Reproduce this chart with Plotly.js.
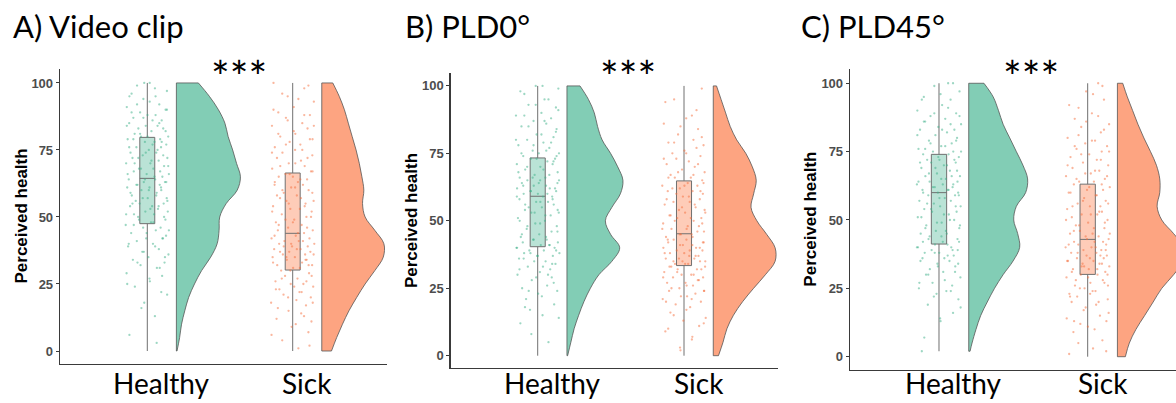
<!DOCTYPE html>
<html><head><meta charset="utf-8">
<script src="https://cdn.plot.ly/plotly-3.0.1.min.js"></script>
<style>html,body{margin:0;padding:0;background:#fff}#chart{width:1176px;height:403px}</style>
</head><body><div id="chart"></div>
<script>
// ---------------- data ----------------
const PANEL_TITLES = ['A) Video clip', 'B) PLD0°', 'C) PLD45°'];
const CATEGORIES = ['Healthy', 'Sick'];
const SIGNIFICANCE = ['***', '***', '***'];
const Y_TITLE = 'Perceived health';
const Y_TICKS = [0, 25, 50, 75, 100];

// half-violin density levels (perceived health) and relative widths
const LEVELS = [0,5,10,15,20,25,30,35,40,45,50,55,60,65,70,75,80,85,90,95,100];
const LEVELS_C_HEALTHY = [2,5,10,15,20,25,30,35,40,45,50,55,60,65,70,75,80,85,90,95,100];
const DENS_A_HEALTHY = [0.01,0.05,0.08,0.13,0.19,0.28,0.39,0.53,0.63,0.66,0.67,0.77,0.94,0.99,0.93,0.87,0.80,0.75,0.65,0.51,0.34];
const DENS_A_SICK    = [0.15,0.23,0.32,0.42,0.54,0.67,0.82,0.95,0.96,0.82,0.67,0.63,0.65,0.62,0.58,0.53,0.47,0.41,0.35,0.27,0.17];
const DENS_B_HEALTHY = [0.01,0.06,0.11,0.18,0.26,0.36,0.49,0.69,0.81,0.67,0.59,0.69,0.82,0.86,0.78,0.67,0.54,0.47,0.42,0.33,0.20];
const DENS_B_SICK    = [0.08,0.15,0.21,0.31,0.45,0.62,0.80,0.95,0.95,0.82,0.67,0.58,0.62,0.66,0.60,0.50,0.36,0.26,0.19,0.12,0.05];
const DENS_C_HEALTHY = [0.02,0.05,0.11,0.18,0.28,0.39,0.52,0.67,0.77,0.74,0.68,0.72,0.86,0.89,0.82,0.72,0.62,0.52,0.45,0.37,0.23];
const DENS_C_SICK    = [0.12,0.18,0.28,0.41,0.54,0.67,0.85,0.99,1.00,0.85,0.67,0.60,0.64,0.64,0.59,0.50,0.40,0.31,0.23,0.15,0.08];

// box statistics, order: A-Healthy, A-Sick, B-Healthy, B-Sick, C-Healthy, C-Sick
const BOX_LOW    = [0, 0, 0, 0, 2, 0];
const BOX_Q1     = [47.5, 30.2, 40.4, 33.4, 41.2, 30.1];
const BOX_MEDIAN = [64.4, 43.9, 59.1, 45.2, 60.0, 42.9];
const BOX_Q3     = [79.7, 66.4, 73.3, 64.8, 74.0, 63.1];
const BOX_HIGH   = [100, 100, 100, 100, 100, 100];

const PTS_A_HEALTHY = [6,13,18,21,24,26,28,29,31,32,33,34,35,36,37,38,39,40,41,42,42,43,44,45,46,46,47,48,49,
  50,51,51,52,52,53,54,54,55,55,56,57,57,58,59,60,60,61,61,62,62,63,63,64,64,65,66,66,67,68,68,69,
  70,70,71,72,72,73,74,74,75,76,76,77,78,78,79,79,80,80,81,82,83,83,84,84,85,86,86,87,88,89,90,91,92,94,95,96,97,99,100,
  3,16,22,25,27,31,33,35,37,39,40,42,44,45,47,48,49,50,51,53,54,55,56,57,58,59,60,61,62,63,64,65,66,67,68,69,
  70,71,72,73,74,75,76,77,78,79,80,81,82,84,85,87,88,89,90,92,93,95,98,100];
const PTS_A_SICK = [1,4,7,9,11,12,14,15,17,18,19,20,21,22,23,24,25,25,26,27,28,29,30,31,32,32,33,34,34,35,35,36,36,37,37,38,38,39,39,
  40,40,41,41,42,42,43,44,45,45,46,47,48,49,50,51,52,53,53,54,55,56,56,57,58,59,60,61,62,62,63,64,65,65,66,67,68,69,
  70,71,72,73,74,75,76,77,78,79,80,81,83,84,85,87,88,89,91,93,95,98,100,
  2,6,10,13,16,18,20,22,23,24,26,27,28,30,31,33,34,35,36,37,38,39,32,40,41,43,44,46,47,48,49,
  50,52,54,55,57,58,59,60,61,63,64,66,67,69,70,72,74,75,77,79,81,82,84,86,88,90,94,96,99];
const PTS_B_HEALTHY = [5,12,15,17,19,21,23,24,25,26,28,29,30,31,32,33,34,35,35,36,37,37,38,38,39,39,
  40,40,41,41,42,42,43,43,44,45,46,47,48,49,50,51,52,53,53,54,55,55,56,57,57,58,59,59,
  60,60,61,61,62,62,63,63,64,64,65,65,66,66,67,68,69,70,71,71,72,73,73,74,75,75,76,77,78,79,
  80,81,82,84,85,86,87,88,89,90,92,93,95,97,99,100,
  8,14,18,22,24,27,29,30,32,33,34,36,37,38,39,40,41,43,44,45,46,48,49,50,52,53,54,56,57,58,59,
  60,61,62,63,64,65,66,67,68,69,70,72,73,74,75,76,78,79,80,82,83,85,87,89,91,93,95,98,100];
const PTS_B_SICK = [2,6,9,11,13,14,16,18,19,20,21,22,23,24,24,25,26,27,27,28,29,29,
  30,30,31,32,32,33,33,34,34,35,35,36,36,37,37,38,38,39,39,40,40,41,41,42,42,43,43,44,45,45,46,47,47,48,49,
  50,51,51,52,53,53,54,55,56,57,57,58,59,60,61,61,62,63,63,64,65,66,66,67,68,69,
  70,71,72,73,74,75,76,78,79,80,82,84,86,88,91,95,99,
  3,7,10,12,15,17,20,21,22,24,25,26,28,29,30,31,32,33,34,35,36,37,38,39,35,40,41,42,43,44,45,46,47,48,49,
  50,51,52,54,55,56,58,59,60,61,62,63,64,66,67,68,71,73,75,77,79,81,85,89,94];
const PTS_C_HEALTHY = [2,13,16,19,21,23,24,25,26,27,29,30,31,32,33,34,35,35,36,37,38,38,39,39,
  40,40,41,41,42,42,43,44,45,45,46,47,48,49,50,51,52,53,53,54,55,55,56,57,57,58,59,59,
  60,60,61,61,62,62,63,63,64,64,65,66,66,67,68,69,70,71,71,72,72,73,74,74,75,75,76,77,78,79,
  80,81,82,83,83,84,85,86,87,88,89,90,92,94,95,97,99,100,
  7,14,18,22,24,27,28,30,31,33,34,36,37,38,39,40,42,43,44,46,47,48,49,50,51,52,54,55,56,58,59,
  60,61,62,63,64,65,66,67,68,69,70,71,72,73,75,76,77,78,79,81,83,85,86,88,89,91,94,96,100];
const PTS_C_SICK = [1,3,6,9,11,12,13,14,15,17,19,20,21,22,23,23,24,25,26,26,27,28,29,
  30,30,31,32,32,33,34,34,35,35,36,36,37,37,38,38,39,39,40,40,41,41,42,42,43,44,44,45,45,46,47,48,49,
  50,51,52,52,53,54,55,55,56,57,58,59,60,61,61,62,63,64,64,65,66,67,68,69,
  70,71,72,73,74,75,76,77,78,79,80,82,84,85,87,89,91,94,97,100,
  2,5,10,13,16,18,20,22,24,25,27,28,29,30,31,32,33,34,35,36,37,38,39,33,40,41,42,43,45,46,47,48,49,
  50,52,53,55,56,57,59,60,62,63,65,66,67,68,70,72,74,75,77,79,81,83,86,88,92,96,99];

// horizontal jitter offsets (fraction of the jitter half-width)
const JITTER = [-0.82,0.35,-0.14,0.91,-0.57,0.12,0.68,-0.95,0.44,-0.31,
  0.79,-0.66,0.05,0.97,-0.23,0.53,-0.88,0.26,-0.48,0.72,
  -0.05,0.86,-0.74,0.39,-0.19,0.61,-0.99,0.17,0.83,-0.42,
  0.31,-0.61,0.94,-0.09,0.49,-0.79,0.22,-0.35,0.75,-0.53,
  0.02,0.89,-0.71,0.43,-0.27,0.64,-0.92,0.10,0.57,-0.45,
  0.81,-0.16,0.36,-0.85,0.69,-0.03,0.99,-0.62,0.28,-0.38,
  0.77,-0.97,0.14,0.52,-0.68,0.92,-0.21,0.41,-0.77,0.07,
  0.63,-0.50,0.87,-0.11,0.33,-0.90,0.59,-0.29,0.96,-0.58,
  0.19,-0.41,0.73,-0.07,0.47,-0.83,0.24,0.66,-0.64,0.01,
  -0.33,0.84,-0.94,0.55,-0.18,0.38,-0.72,0.90,-0.47,0.11];

// ---------------- layout / style ----------------
const W = 1176, H = 403;
const CAT_POS = [1, 2];
const BOX_WIDTH = 0.103, JITTER_HALF = 0.15, VIOLIN_GAP = 0.2, VIOLIN_SCALE = 0.445, LABEL_SHIFT = 0.1;
const FILL = ['rgba(102,194,165,0.82)', 'rgba(252,141,98,0.80)'];
const BOXFILL = ['rgba(102,194,165,0.45)', 'rgba(252,141,98,0.45)'];
const PTCOL = ['rgba(60,175,135,0.5)', 'rgba(245,110,60,0.5)'];
// panel geometry in pixels
const AX_LEFT = [60, 450.7, 850], AX_RIGHT = [387, 778, 1176];
const AX_TOP = [69, 72.7, 69.3], AX_BOTTOM = [364, 368, 370];
const X_RANGES = [[0.3996, 2.6486], [0.4053, 2.6425], [0.4015, 2.594]];
const Y_RANGES = [[-4.85, 105.2], [-4.56, 104.9], [-4.86, 105.1]];
const TITLE_X = [11, 403, 799], TITLE_Y = 26;
const SIG_X = [238.5, 627.5, 1031], SIG_Y = 76.5;
const CATLABEL_Y = 382.5;

const levelsFor = [[LEVELS, LEVELS], [LEVELS, LEVELS], [LEVELS_C_HEALTHY, LEVELS]];
const densFor = [[DENS_A_HEALTHY, DENS_A_SICK], [DENS_B_HEALTHY, DENS_B_SICK], [DENS_C_HEALTHY, DENS_C_SICK]];
const ptsFor = [[PTS_A_HEALTHY, PTS_A_SICK], [PTS_B_HEALTHY, PTS_B_SICK], [PTS_C_HEALTHY, PTS_C_SICK]];

const traces = [];
const layout = {
  width: W, height: H, margin: {l: 0, r: 0, t: 0, b: 0},
  paper_bgcolor: '#fff', plot_bgcolor: 'rgba(0,0,0,0)', showlegend: false,
  annotations: []
};

for (let p = 0; p < 3; p++) {
  const s = p === 0 ? '' : String(p + 1);
  const xa = 'x' + s, ya = 'y' + s;
  for (let g = 0; g < 2; g++) {
    const idx = p * 2 + g;
    const pos = CAT_POS[g];
    const pts = ptsFor[p][g];
    const off = idx * 17;
    traces.push({
      type: 'scatter', mode: 'markers', xaxis: xa, yaxis: ya, hoverinfo: 'skip',
      x: pts.map((v, i) => pos + JITTER[(i + off + (i >= 100 ? 43 : 0)) % JITTER.length] * JITTER_HALF),
      y: pts,
      marker: {size: 2.3, color: PTCOL[g], line: {width: 0}}
    });
    traces.push({
      type: 'box', xaxis: xa, yaxis: ya, x: [pos],
      q1: [BOX_Q1[idx]], median: [BOX_MEDIAN[idx]], q3: [BOX_Q3[idx]],
      lowerfence: [BOX_LOW[idx]], upperfence: [BOX_HIGH[idx]],
      width: BOX_WIDTH, whiskerwidth: 0, boxpoints: false,
      fillcolor: BOXFILL[g], line: {color: '#707070', width: 1}, hoverinfo: 'skip'
    });
    const lev = levelsFor[p][g], dens = densFor[p][g];
    const base = pos + VIOLIN_GAP;
    const n = lev.length;
    traces.push({
      type: 'scatter', mode: 'lines', xaxis: xa, yaxis: ya, hoverinfo: 'skip',
      x: [base + dens[0] * VIOLIN_SCALE, base, base, base + dens[n - 1] * VIOLIN_SCALE],
      y: [lev[0], lev[0], lev[n - 1], lev[n - 1]],
      line: {color: '#555', width: 0.8}
    });
    traces.push({
      type: 'scatter', mode: 'lines', xaxis: xa, yaxis: ya, hoverinfo: 'skip',
      x: dens.map(d => base + d * VIOLIN_SCALE), y: lev,
      line: {color: '#555', width: 0.8, shape: 'spline', smoothing: 1},
      fill: 'tonextx', fillcolor: FILL[g]
    });
    layout.annotations.push({
      xref: xa, yref: 'paper', x: pos + LABEL_SHIFT, y: 1 - CATLABEL_Y / H,
      xanchor: 'center', yanchor: 'middle', showarrow: false,
      text: CATEGORIES[g], font: {family: 'Lato', size: 28, color: '#000'}
    });
  }
  layout['xaxis' + s] = {
    domain: [AX_LEFT[p] / W, AX_RIGHT[p] / W], anchor: ya, range: X_RANGES[p],
    showline: true, linecolor: '#3a3a3a', linewidth: 1.3, showgrid: false, zeroline: false,
    showticklabels: false, ticks: '', fixedrange: true
  };
  layout['yaxis' + s] = {
    domain: [1 - AX_BOTTOM[p] / H, 1 - AX_TOP[p] / H], anchor: xa, range: Y_RANGES[p],
    showline: true, linecolor: '#3a3a3a', linewidth: 1.3, showgrid: false, zeroline: false,
    tickvals: Y_TICKS, ticktext: Y_TICKS.map(String), ticks: 'outside', ticklen: 3, tickcolor: '#3a3a3a',
    tickfont: {family: 'Liberation Sans, Arial, sans-serif', size: 13, color: '#4d4d4d', weight: 'bold'},
    fixedrange: true
  };
  layout.annotations.push({
    xref: 'paper', yref: 'paper', x: TITLE_X[p] / W, y: 1 - TITLE_Y / H,
    xanchor: 'left', yanchor: 'middle', showarrow: false,
    text: PANEL_TITLES[p], font: {family: 'Lato', size: 31, color: '#000'}
  });
  layout.annotations.push({
    xref: 'paper', yref: 'paper', x: SIG_X[p] / W, y: 1 - SIG_Y / H,
    xanchor: 'center', yanchor: 'middle', showarrow: false,
    text: SIGNIFICANCE[p], font: {family: 'Lato', size: 44, color: '#000'}
  });
  layout.annotations.push({
    xref: 'paper', yref: 'paper', x: (AX_LEFT[p] - 39) / W, y: 1 - (AX_TOP[p] + AX_BOTTOM[p]) / 2 / H,
    xanchor: 'center', yanchor: 'middle', showarrow: false, textangle: -90,
    text: Y_TITLE, font: {family: 'Liberation Sans, Arial, sans-serif', size: 17, color: '#000', weight: 'bold'}
  });
}

Plotly.newPlot('chart', traces, layout, {staticPlot: true, displayModeBar: false});
</script></body></html>
